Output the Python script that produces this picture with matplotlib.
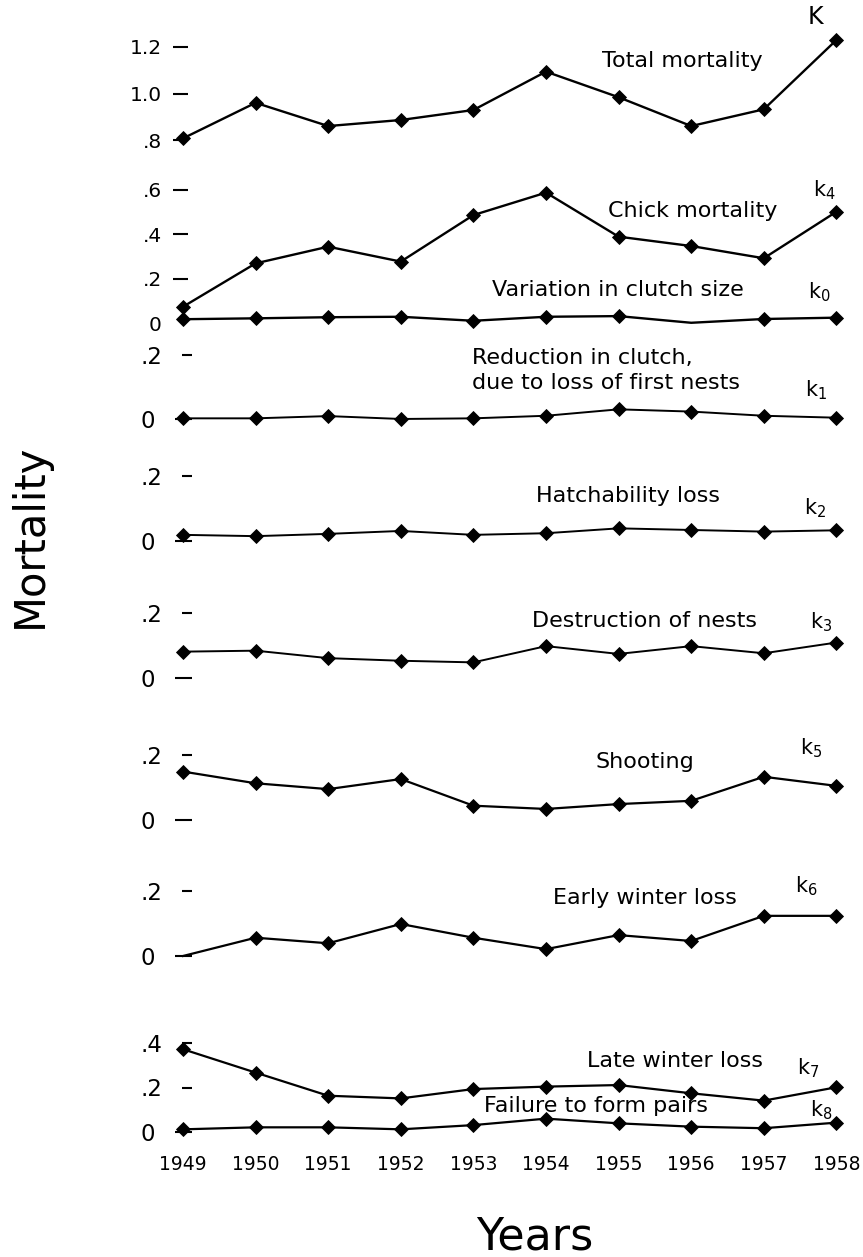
"""
Mortality factors (k-values) by year, stacked panels
"""

import matplotlib
matplotlib.use('Agg')
import matplotlib.pyplot as plt

plt.rcParams['font.family'] = ['DejaVu Sans']

# Data
years = [1949, 1950, 1951, 1952, 1953, 1954, 1955, 1956, 1957, 1958]
K = [0.807, 0.960, 0.860, 0.886, 0.929, 1.094, 0.984, 0.860, 0.932, 1.230]
k4 = [0.073, 0.268, 0.343, 0.276, 0.485, 0.586, 0.388, 0.346, 0.291, 0.500]
k0 = [0.017, 0.021, 0.026, 0.028, 0.010, 0.028, 0.031, 0.001, 0.018, 0.024]
k1 = [0.003, 0.003, 0.010, 0.001, 0.003, 0.011, 0.031, 0.024, 0.011, 0.005]
k2 = [0.018, 0.014, 0.021, 0.030, 0.018, 0.023, 0.038, 0.033, 0.028, 0.032]
k3 = [0.082, 0.085, 0.062, 0.054, 0.049, 0.099, 0.075, 0.099, 0.077, 0.110]
k5 = [0.149, 0.113, 0.095, 0.126, 0.044, 0.034, 0.049, 0.059, 0.133, 0.105]
k6 = [0.000, 0.056, 0.039, 0.098, 0.056, 0.021, 0.064, 0.046, 0.123, 0.123]
k7 = [0.372, 0.267, 0.163, 0.151, 0.193, 0.204, 0.211, 0.174, 0.141, 0.201]
k8 = [0.012, 0.021, 0.021, 0.012, 0.031, 0.060, 0.039, 0.024, 0.017, 0.042]

# Layout (pixels of the 863x1257 picture)
W, H = 863, 1257
X0_PX, PX_PER_YEAR = 183, 72.6
AX_LEFT_PX, AX_RIGHT_PX = 170, 858

fig = plt.figure(figsize=(W / 100, H / 100), dpi=100)
fig.patch.set_facecolor('white')

x_lo = years[0] + (AX_LEFT_PX - X0_PX) / PX_PER_YEAR
x_hi = years[0] + (AX_RIGHT_PX - X0_PX) / PX_PER_YEAR


def add_panel(zero_px, unit_px, ylo, yhi, spine_px):
    """Eje sin marco; zero_px = pixel del valor 0, unit_px = pixeles por unidad"""
    top_px = zero_px - yhi * unit_px
    bot_px = zero_px - ylo * unit_px
    ax = fig.add_axes([AX_LEFT_PX / W, 1 - bot_px / H,
                       (AX_RIGHT_PX - AX_LEFT_PX) / W, (bot_px - top_px) / H])
    ax.set_xlim(x_lo, x_hi)
    ax.set_ylim(ylo, yhi)
    for s in ['top', 'right', 'bottom']:
        ax.spines[s].set_visible(False)
    ax.spines['left'].set_color('none')
    ax.spines['left'].set_position(('data', years[0] + (spine_px - X0_PX) / PX_PER_YEAR))
    ax.patch.set_alpha(0)
    ax.set_xticks([])
    return ax


def series(ax, values, lw=1.6, markevery=None):
    ax.plot(years, values, color='black', lw=lw, marker='D', ms=7,
            mec='black', mew=0.6, markevery=markevery, clip_on=False)


def upper_ticks(ax, major, labels, minor=None, minor_labels=None):
    ax.set_yticks(major, labels)
    ax.tick_params(axis='y', which='major', direction='out', length=10.8,
                   width=1.5, pad=8, labelsize=14.5, color='black')
    if minor is not None:
        ax.set_yticks(minor, minor_labels, minor=True)
        ax.tick_params(axis='y', which='minor', length=0, pad=18.8, labelsize=14.5)


def lower_ticks(ax, major, labels):
    ax.set_yticks(major, labels)
    ax.tick_params(axis='y', which='major', direction='out', length=7.2,
                   width=1.5, pad=14.4, labelsize=16.5, color='black')
    ax.set_yticks([0], ['0'], minor=True)
    ax.tick_params(axis='y', which='minor', direction='out', length=12.5,
                   width=1.5, pad=14.4, labelsize=16.5, color='black')


# Total mortality
axA = add_panel(326, 232.5, 0.74, 1.27, 188)
series(axA, K, lw=1.7)
upper_ticks(axA, [0.8, 1.0, 1.2], ['.8', '1.0', '1.2'])

# Chick mortality + clutch size
axB = add_panel(323, 222.5, -0.03, 0.64, 188)
series(axB, k4, lw=1.7)
series(axB, k0, lw=1.7, markevery=[0, 1, 2, 3, 4, 5, 6, 8, 9])
upper_ticks(axB, [0.2, 0.4, 0.6], ['.2', '.4', '.6'], [0], ['0'])

lower = [
    (k1, 419.3, 321.5, 1.4, None),
    (k2, 540.7, 325.0, 1.4, None),
    (k3, 678.3, 325.0, 1.4, None),
    (k5, 820.0, 325.0, 1.6, None),
    (k6, 956.0, 326.5, 1.6, [1, 2, 3, 4, 5, 6, 7, 8, 9]),
]
for vals, zero_px, unit_px, lw, mev in lower:
    ax = add_panel(zero_px, unit_px, -0.03, 0.23, 192)
    series(ax, vals, lw=lw, markevery=mev)
    lower_ticks(ax, [0.2], ['.2'])

# Late winter loss + failure to form pairs
axH = add_panel(1132, 222.5, -0.03, 0.43, 192)
series(axH, k7)
series(axH, k8)
lower_ticks(axH, [0.2, 0.4], ['.2', '.4'])
axH.set_xticks(years, [str(y) for y in years])
axH.tick_params(axis='x', length=0, pad=11.5, labelsize=13.5)


def label(x_px, y_px, text, size=16, ha='center'):
    fig.text(x_px / W, 1 - y_px / H, text, ha=ha, va='baseline', fontsize=size)


label(682, 67, 'Total mortality')
label(693, 217, 'Chick mortality')
label(618, 296, 'Variation in clutch size')
label(472, 364, 'Reduction in clutch,', ha='left')
label(472, 389, 'due to loss of first nests', ha='left')
label(628, 502, 'Hatchability loss')
label(644, 627, 'Destruction of nests')
label(645, 768, 'Shooting')
label(645, 904, 'Early winter loss')
label(675, 1067, 'Late winter loss')
label(596, 1112, 'Failure to form pairs')

label(808, 24, 'K', size=17, ha='left')
for x_px, y_px, sub in [(813, 196, '4'), (808, 298, '0'), (805, 396, '1'),
                        (804, 514, '2'), (810, 628, '3'), (800, 754, '5'),
                        (795, 892, '6'), (797, 1074, '7'), (810, 1116, '8')]:
    label(x_px, y_px, r'$\mathregular{k_{%s}}$' % sub, size=15, ha='left')

fig.text(30 / W, 1 - 536 / H, 'Mortality', rotation=90, ha='center',
         va='center', fontsize=30)
label(535, 1250, 'Years', size=32)

plt.savefig('out.png', dpi=100)
